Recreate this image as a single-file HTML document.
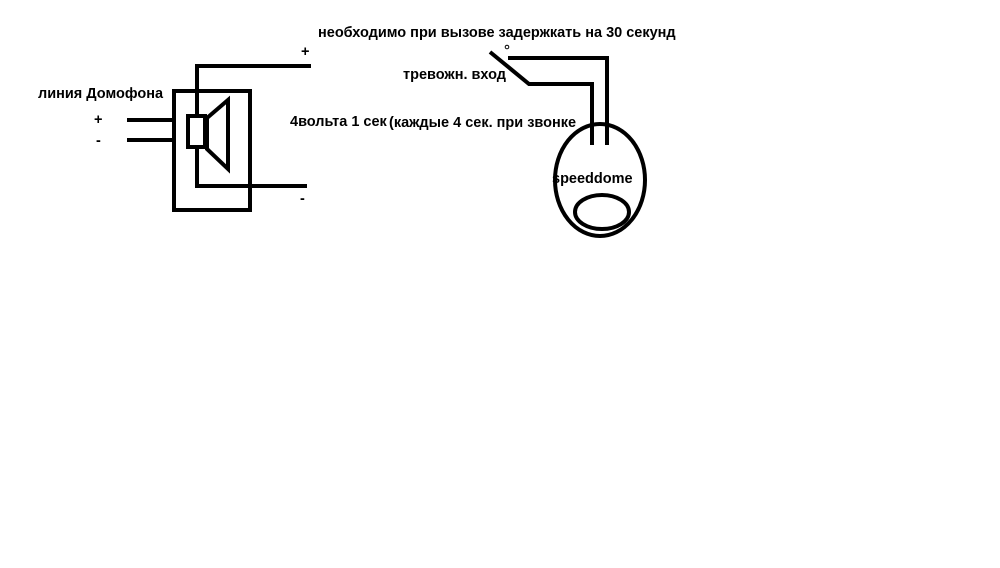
<!DOCTYPE html>
<html><head><meta charset="utf-8"><style>
body{margin:0;background:#fff}
svg text{font-family:"Liberation Sans",sans-serif;font-weight:bold;font-size:14.5px;fill:#000}
</style></head><body>
<svg width="1000" height="563" viewBox="0 0 1000 563" xmlns="http://www.w3.org/2000/svg">
<g fill="none" stroke="#000" stroke-width="4">
<rect x="174" y="91" width="76" height="119"/>
<line x1="127" y1="120" x2="174" y2="120"/>
<line x1="127" y1="140" x2="174" y2="140"/>
<polyline points="311,66 197,66 197,186 307,186"/>
<rect x="188" y="116" width="17" height="31" fill="#fff"/>
<polygon points="207,118 228,100 228,169 207,149"/>
<polyline points="490,52 529,84 592,84 592,145"/>
<polyline points="508,58 607,58 607,145"/>
<ellipse cx="600" cy="180" rx="45" ry="56"/>
<ellipse cx="602" cy="212" rx="27" ry="17"/>
</g>
<circle cx="507" cy="47" r="1.8" fill="none" stroke="#000" stroke-width="1"/>
<text x="38" y="98">линия Домофона</text>
<text x="94" y="124">+</text>
<text x="96" y="145">-</text>
<text x="301" y="56">+</text>
<text x="300" y="203">-</text>
<text x="290" y="126">4вольта 1 сек</text>
<text x="389" y="127">(каждые 4 сек. при звонке</text>
<text x="318" y="37">необходимо при вызове задержкать на 30 секунд</text>
<text x="403" y="79">тревожн. вход</text>
<text x="552" y="183">speeddome</text>
</svg>
</body></html>
